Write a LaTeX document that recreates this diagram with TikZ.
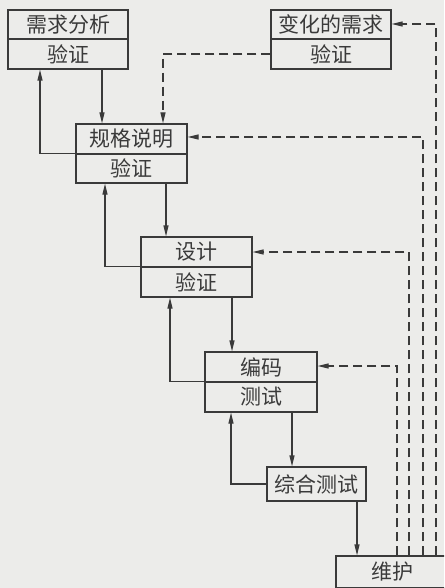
\documentclass[tikz,border=0pt]{standalone}
\usepackage{fontspec}
\newfontfamily\cjk{Noto Sans CJK SC}
\usetikzlibrary{arrows.meta}
\definecolor{bgcol}{HTML}{ECECEA}
\definecolor{ink}{HTML}{3A3A3A}
\begin{document}
\begin{tikzpicture}[x=1pt,y=-1pt,
  part/.style={draw=ink,line width=1.1pt,inner sep=0pt,text=ink,font=\cjk\fontsize{21}{21}\selectfont,anchor=center},
  arr/.style={draw=ink,line width=1.1pt,-{Triangle[length=11pt,width=5pt]}},
  darr/.style={arr,dash pattern=on 9pt off 5pt}]
\fill[bgcol] (0,0) rectangle (444,588);
\useasboundingbox (0,0) rectangle (444,588);
% boxes
\node[part,minimum width=120pt,minimum height=29pt] (r1) at (68,24.5) {需求分析};
\node[part,minimum width=120pt,minimum height=30pt] (v1) at (68,54) {验证};
\node[part,minimum width=120pt,minimum height=29pt] (r2) at (331,24.5) {变化的需求};
\node[part,minimum width=120pt,minimum height=30pt] (v2) at (331,54) {验证};
\node[part,minimum width=111pt,minimum height=30pt] (r3) at (131.5,139) {规格说明};
\node[part,minimum width=111pt,minimum height=29pt] (v3) at (131.5,168.5) {验证};
\node[part,minimum width=111pt,minimum height=30pt] (r4) at (196.5,252) {设计};
\node[part,minimum width=111pt,minimum height=30pt] (v4) at (196.5,282) {验证};
\node[part,minimum width=112pt,minimum height=30pt] (r5) at (261,367) {编码};
\node[part,minimum width=112pt,minimum height=30pt] (v5) at (261,397) {测试};
\node[part,minimum width=99pt,minimum height=34pt] (r6) at (316.5,484) {综合测试};
\begin{scope}
\clip (0,0) rectangle (444,588);
\node[part,minimum width=112pt,minimum height=32pt] (r7) at (392,572) {维护};
\end{scope}
% x positions
\coordinate (xa) at (102,0);
\coordinate (xb) at (40,0);
\coordinate (xc) at (166,0);
\coordinate (xd) at (105,0);
\coordinate (xe) at (232,0);
\coordinate (xf) at (170,0);
\coordinate (xg) at (292,0);
\coordinate (xh) at (231,0);
\coordinate (xi) at (357,0);
\coordinate (xj) at (163,0);
\coordinate (d1) at (436,0);
\coordinate (d2) at (423,0);
\coordinate (d3) at (409,0);
\coordinate (d4) at (397,0);
\coordinate (ya) at (0,24);
\coordinate (yb) at (0,137);
\coordinate (yc) at (0,252);
\coordinate (yd) at (0,366);
% solid connectors
\draw[arr] (v1.south -| xa) -- (r3.north -| xa);
\draw[arr] (v3.north west) -| (v1.south -| xb);
\draw[arr] (v3.south -| xc) -- (r4.north -| xc);
\draw[arr] (v4.north west) -| (v3.south -| xd);
\draw[arr] (v4.south -| xe) -- (r5.north -| xe);
\draw[arr] (v5.north west) -| (v4.south -| xf);
\draw[arr] (v5.south -| xg) -- (r6.north -| xg);
\draw[arr] (r6.west) -| (v5.south -| xh);
\draw[arr] (r6.south -| xi) -- (r7.north -| xi);
% dashed connectors
\draw[darr] (v2.west) -| (r3.north -| xj);
\draw[darr] (r7.north -| d1) |- (r2.east |- ya);
\draw[darr] (r7.north -| d2) |- (r3.east |- yb);
\draw[darr] (r7.north -| d3) |- (r4.east |- yc);
\draw[darr] (r7.north -| d4) |- (r5.east |- yd);
\end{tikzpicture}
\end{document}
